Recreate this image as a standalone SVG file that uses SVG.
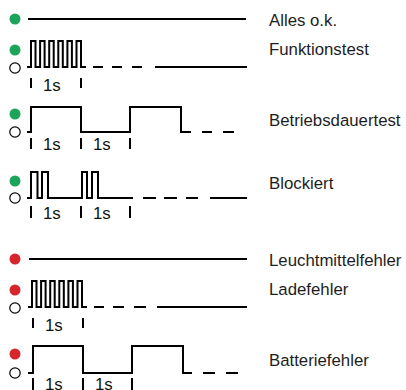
<svg xmlns="http://www.w3.org/2000/svg" width="406" height="390" viewBox="0 0 406 390">
<defs>
<style>
.bg{fill:#ffffff}
.g{fill:#1ca55a}
.r{fill:#d7262b}
.o{fill:#ffffff;stroke:#000;stroke-width:1.2}
.w{fill:none;stroke:#000;stroke-width:2;stroke-linejoin:miter;stroke-linecap:butt}
.lbl{font-family:"Liberation Sans",Arial,sans-serif;font-size:16.8px;fill:#1e1e1e}
.t{font-family:"Liberation Sans",Arial,sans-serif;font-size:16.8px;fill:#111}
</style>
</defs>
<rect class="bg" x="0" y="0" width="406" height="390"/>
<g id="row-alles-ok">
<circle class="g" cx="15" cy="19" r="5.5"/>
<path class="w" d="M28 19 H246"/>
<text class="lbl" x="269" y="26">Alles o.k.</text>
</g>
<g id="row-funktionstest">
<circle class="g" cx="15" cy="50" r="5.5"/>
<circle class="o" cx="15" cy="68" r="5.2"/>
<path class="w" d="M27 67 H31 V41 H35.5 V67 H40.1 V41 H44.6 V67 H49.2 V41 H53.7 V67 H58.3 V41 H62.8 V67 H67.4 V41 H71.9 V67 H76.5 V41 H81 V67 H86 M93 67 H103 M112 67 H122 M132 67 H142 M155 67 H247"/>
<path class="w" d="M31 78 V88 M81 78 V88"/>
<text class="t" x="43" y="91">1s</text>
<text class="lbl" x="269" y="55">Funktionstest</text>
</g>
<g id="row-betriebsdauertest">
<circle class="g" cx="15" cy="114" r="5.5"/>
<circle class="o" cx="15" cy="132" r="5.2"/>
<path class="w" d="M27 132 H31 V107 H81 V132 H130 V107 H181 V132 H191 M202 132 H212 M223 132 H234"/>
<path class="w" d="M31 138 V149 M81 138 V149 M130 138 V149"/>
<text class="t" x="43" y="150">1s</text>
<text class="t" x="93" y="150">1s</text>
<text class="lbl" x="269" y="126">Betriebsdauertest</text>
</g>
<g id="row-blockiert">
<circle class="g" cx="15" cy="181" r="5.5"/>
<circle class="o" cx="15" cy="198" r="5.2"/>
<path class="w" d="M27 198 H31 V172 H37.5 V198 H42 V172 H48 V198 H82 V172 H87 V198 H92 V172 H98 V198 H133 M143 198 H156 M164 198 H177 M186 198 H198 M210 198 H247"/>
<path class="w" d="M31 206 V218 M81 206 V218 M130 206 V218"/>
<text class="t" x="43" y="219">1s</text>
<text class="t" x="93" y="219">1s</text>
<text class="lbl" x="269" y="189">Blockiert</text>
</g>
<g id="row-leuchtmittelfehler">
<circle class="r" cx="15" cy="259" r="5.5"/>
<path class="w" d="M29 259 H247"/>
<text class="lbl" x="269" y="266">Leuchtmittelfehler</text>
</g>
<g id="row-ladefehler">
<circle class="r" cx="15" cy="290" r="5.5"/>
<circle class="o" cx="15" cy="308" r="5.2"/>
<path class="w" d="M28 307 H32 V281 H36.5 V307 H41.1 V281 H45.6 V307 H50.2 V281 H54.7 V307 H59.3 V281 H63.8 V307 H68.4 V281 H72.9 V307 H77.5 V281 H82 V307 H87 M94 307 H104 M113 307 H124 M134 307 H146 M157 307 H247"/>
<path class="w" d="M33 318 V328 M83 318 V328"/>
<text class="t" x="45" y="331">1s</text>
<text class="lbl" x="269" y="295">Ladefehler</text>
</g>
<g id="row-batteriefehler">
<circle class="r" cx="15" cy="354" r="5.5"/>
<circle class="o" cx="15" cy="373" r="5.2"/>
<path class="w" d="M28 373 H33 V346 H83 V373 H132 V346 H183 V373 H192 M203 373 H215 M226 373 H238"/>
<path class="w" d="M33 378 V390 M83 378 V390 M132 378 V390"/>
<text class="t" x="45" y="390">1s</text>
<text class="t" x="95" y="390">1s</text>
<text class="lbl" x="269" y="366">Batteriefehler</text>
</g>
<g id="connectors"></g>
</svg>
